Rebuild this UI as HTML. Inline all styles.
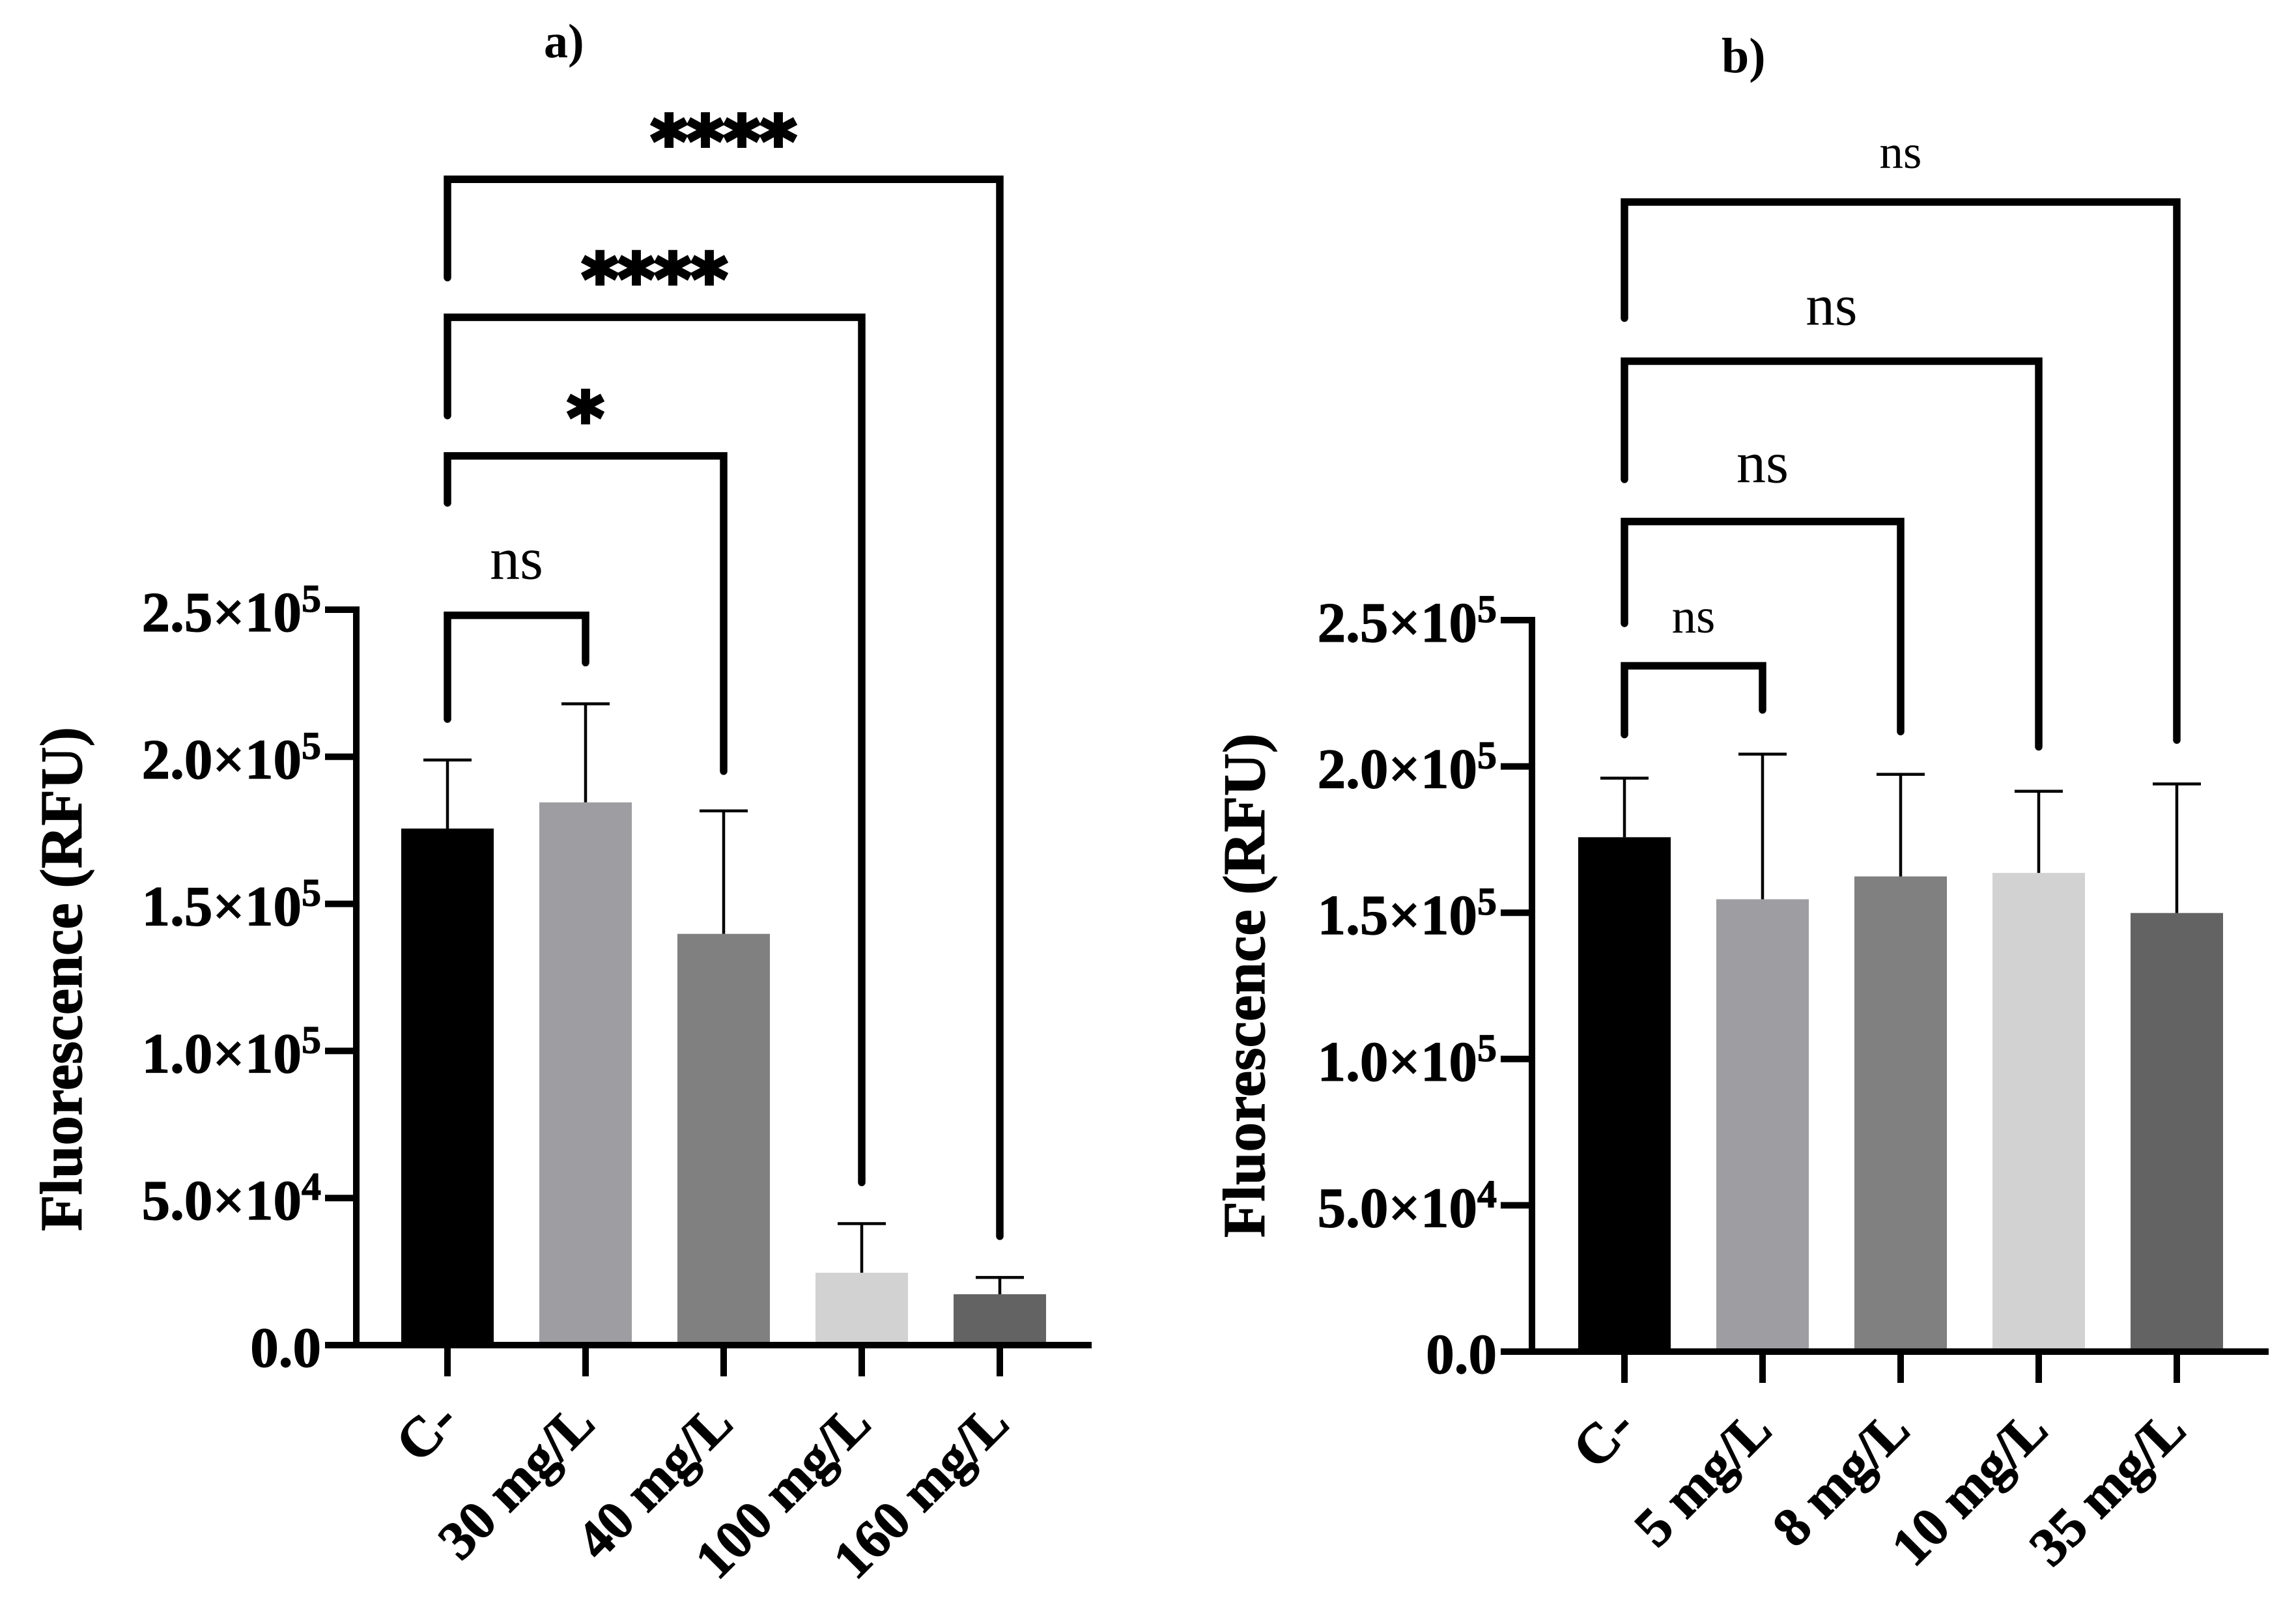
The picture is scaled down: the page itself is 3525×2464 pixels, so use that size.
<!DOCTYPE html>
<html lang="en">
<head>
<meta charset="utf-8">
<title>Fluorescence bar charts</title>
<style>
html,body{margin:0;padding:0;background:#fff;}
svg{display:block;}
text{font-family:"Liberation Serif",serif;fill:#000;}
</style>
</head>
<body>
<svg id="fig" xmlns="http://www.w3.org/2000/svg" width="3525" height="2464" viewBox="0 0 3525 2464"></svg>
<script>
// ---- Shared axis data ----
const tickValues = [0, 50000, 100000, 150000, 200000, 250000];
const tickMantissas = ["0.0", "5.0×10", "1.0×10", "1.5×10", "2.0×10", "2.5×10"];
const tickExponents = ["", "4", "5", "5", "5", "5"];
const yAxisTitle = "Fluorescence (RFU)";
const barColors = ["#000000", "#9e9ea2", "#808080", "#d2d2d2", "#636363"];

// ---- Panel a data ----
const categoriesA = ["C-", "30 mg/L", "40 mg/L", "100 mg/L", "160 mg/L"];
const meansA = [175600, 184500, 139800, 24600, 17300];
const errorTopsA = [198900, 218000, 181600, 41300, 23000];
const bracketTargetsA = [1, 2, 3, 4];
const bracketLevelsA = [248100, 302300, 349400, 396300];
const bracketLeftEndsA = [212800, 286300, 316000, 362900];
const bracketRightEndsA = [232000, 195100, 55300, 37000];
const bracketLabelsA = ["ns", "*", "****", "****"];

// ---- Panel b data ----
const categoriesB = ["C-", "5 mg/L", "8 mg/L", "10 mg/L", "35 mg/L"];
const meansB = [175800, 154600, 162400, 163600, 149900];
const errorTopsB = [196000, 204200, 197300, 191500, 194000];
const bracketTargetsB = [1, 2, 3, 4];
const bracketLevelsB = [234400, 283700, 338500, 392900];
const bracketLeftEndsB = [210900, 248900, 298100, 353200];
const bracketRightEndsB = [219300, 211900, 206700, 209000];
const bracketLabelsB = ["ns", "ns", "ns", "ns"];

const svg = document.getElementById('fig');
const NS = 'http://www.w3.org/2000/svg';

function mk(tag, attrs, parent, txt) {
  const el = document.createElementNS(NS, tag);
  for (const k in attrs) el.setAttribute(k, attrs[k]);
  if (txt !== undefined) el.textContent = txt;
  (parent || svg).appendChild(el);
  return el;
}

function panel(p) {
  const group = mk('g', {}, svg);
  
  

  const yS = v => p.y0 - (v / 250000) * (p.y0 - p.yTop);
  const xS = i => p.x0 + i * p.step;

  const title = mk('text', {x: p.titleX, y: p.titleY, 'font-size': p.titleSize, 'font-weight': 'bold'}, group, p.titleText);
  
  

  // bars
  p.means.forEach((m, i) => {
    const bar = mk('rect', {x: xS(i) - 71, y: yS(m), width: 142, height: p.y0 - yS(m), fill: barColors[i]}, group);
    
    
    const err = mk('path', {d: 'M' + xS(i) + ' ' + yS(m) + 'V' + yS(p.errs[i]) + 'M' + (xS(i) - 37) + ' ' + yS(p.errs[i]) + 'H' + (xS(i) + 37), stroke: '#000', 'stroke-width': 4.5, fill: 'none'}, group);
    
    
  });

  // y axis
  const yAxis = mk('path', {d: 'M' + p.axisX + ' ' + (yS(250000) - 5) + 'V' + (p.y0 + 5), stroke: '#000', 'stroke-width': 10, fill: 'none'}, group);
  
  
  tickValues.forEach((v, i) => {
    const t = mk('path', {d: 'M' + (p.axisX - 48) + ' ' + yS(v) + 'H' + p.axisX, stroke: '#000', 'stroke-width': 10}, group);
    
    
    const label = mk('text', {x: p.axisX - 54, y: yS(v) + 33, 'text-anchor': 'end', 'font-size': 87, 'font-weight': 'bold', stroke: '#000', 'stroke-width': 1.2}, group);
    
    
    mk('tspan', {}, label, tickMantissas[i]);
    if (tickExponents[i]) {
      mk('tspan', {'font-size': 60, dy: -30}, label, tickExponents[i]);
    }
  });

  // x axis
  const xAxis = mk('path', {d: 'M' + (p.axisX - 48) + ' ' + p.y0 + 'H' + p.xEnd, stroke: '#000', 'stroke-width': 10, fill: 'none'}, group);
  
  
  p.cats.forEach((c, i) => {
    const t = mk('path', {d: 'M' + xS(i) + ' ' + p.y0 + 'V' + (p.y0 + 48), stroke: '#000', 'stroke-width': 10}, group);
    
    
    const ax = xS(i) + (i === 0 ? 20 : 18), ay = p.y0 + (i === 0 ? 120 : 124);
    const label = mk('text', {x: ax, y: ay, 'text-anchor': 'end', 'font-size': i === 0 ? 86 : 84, 'font-weight': 'bold', stroke: '#000', 'stroke-width': 1.2, transform: 'rotate(-45 ' + ax + ' ' + ay + ')'}, group, c);
    
    
  });

  // y title
  const yt = mk('text', {x: 0, y: 0, 'text-anchor': 'middle', 'font-size': 91, 'font-weight': 'bold', stroke: '#000', 'stroke-width': 1.2, transform: 'translate(' + p.titleAxisX + ' ' + p.titleAxisY + ') rotate(-90)'}, group, yAxisTitle);
  
  

  // brackets
  p.targets.forEach((target, i) => {
    const lv = yS(p.levels[i]), x1 = xS(0), x2 = xS(target);
    const br = mk('path', {d: 'M' + x1 + ' ' + yS(p.leftEnds[i]) + 'V' + lv + 'H' + x2 + 'V' + yS(p.rightEnds[i]), stroke: '#000', 'stroke-width': 11.5, fill: 'none', 'stroke-linecap': 'round', 'stroke-linejoin': 'miter'}, group);
    
    
    const txt = p.labels[i], cx = (x1 + x2) / 2;
    const stars = txt.indexOf('*') >= 0;
    const st = p.labelStyles[i];
    const l = mk('text', {x: cx, y: lv + st.dy, 'text-anchor': 'middle', 'font-size': st.size}, group, txt);
    if (stars) {
      l.setAttribute('style', 'font-family:"DejaVu Sans",sans-serif;font-weight:bold;stroke:#000;stroke-width:5px;');
    }
    
    
  });
}

panel({
  id: 'panel-a', titleText: 'a)', titleX: 835, titleY: 88, titleSize: 74,
  x0: 687, step: 212, y0: 2065, yTop: 936, axisX: 547, xEnd: 1676,
  titleAxisX: 125, titleAxisY: 1503,
  cats: categoriesA, means: meansA, errs: errorTopsA,
  targets: bracketTargetsA, levels: bracketLevelsA, leftEnds: bracketLeftEndsA, rightEnds: bracketRightEndsA, labels: bracketLabelsA,
  labelStyles: [{size: 92, dy: -56}, {size: 107, dy: -21}, {size: 107, dy: -21}, {size: 107, dy: -21}]
});
panel({
  id: 'panel-b', titleText: 'b)', titleX: 2643, titleY: 111, titleSize: 76,
  x0: 2494, step: 212, y0: 2075, yTop: 952, axisX: 2352, xEnd: 3483,
  titleAxisX: 1941, titleAxisY: 1513,
  cats: categoriesB, means: meansB, errs: errorTopsB,
  targets: bracketTargetsB, levels: bracketLevelsB, leftEnds: bracketLeftEndsB, rightEnds: bracketRightEndsB, labels: bracketLabelsB,
  labelStyles: [{size: 75, dy: -51}, {size: 90, dy: -60}, {size: 89, dy: -56}, {size: 73, dy: -52}]
});
</script>
</body>
</html>
